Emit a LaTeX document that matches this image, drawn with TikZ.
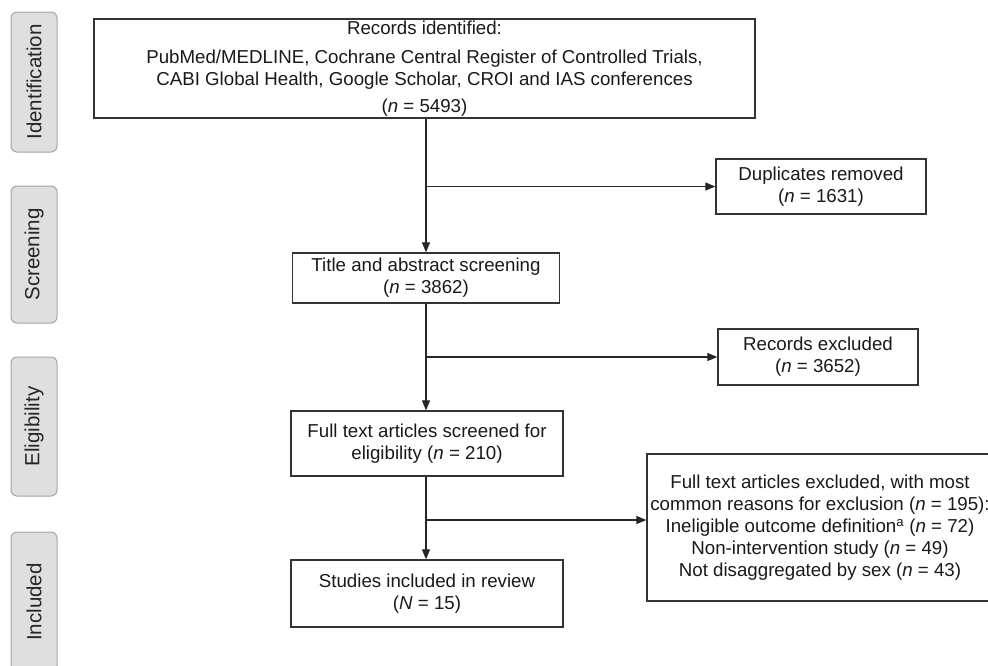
\documentclass[tikz,border=0pt]{standalone}
\usepackage{fontspec}
\setmainfont{Liberation Sans}
\usetikzlibrary{arrows.meta, positioning}

\begin{document}
\begin{tikzpicture}[x=1pt, y=-1pt,
    every node/.style={font=\fontsize{18.7}{22}\selectfont, text=black!90},
    box/.style={rectangle, draw=black!80, line width=1.3pt, align=center, inner sep=0pt},
    phase/.style={rectangle, rounded corners=6pt, draw=gray!70, fill=gray!25, line width=1pt,
      rotate=90, minimum height=46pt, inner sep=0pt, text=black!85, font=\fontsize{20.5}{22}\selectfont},
    arrow/.style={-{Triangle[length=10pt, width=8pt]}, line width=1.1pt, black!85}]

\useasboundingbox (0,0) rectangle (988,665);

% Phase labels
\node[phase, minimum width=140pt] (ident) at (34,82) {Identification};
\node[phase, minimum width=137pt] (screen) at (34,254.5) {Screening};
\node[phase, minimum width=139pt] (elig) at (34,426.5) {Eligibility};
\node[phase, minimum width=140pt] (incl) at (34,602) {Included};

% Main column
\node[box, minimum width=661pt, minimum height=99pt] (records) at (424.5,68.5)
  {Records identified:\\[7pt]
   PubMed/MEDLINE, Cochrane Central Register of Controlled Trials,\\
   CABI Global Health, Google Scholar, CROI and IAS conferences\\[5pt]
   (\textit{n} = 5493)};
\node[box, minimum width=267pt, minimum height=50pt] (title) at (426,278)
  {Title and abstract screening\\(\textit{n} = 3862)};
\node[box, minimum width=272pt, minimum height=65pt] (fulltext) at (427,443.5)
  {Full text articles screened for\\eligibility (\textit{n} = 210)};
\node[box, minimum width=272pt, minimum height=67pt] (studies) at (427,593.5)
  {Studies included in review\\(\textit{N} = 15)};

% Excluded boxes
\node[box, minimum width=210pt, minimum height=55pt] (dupl) at (821,186.5)
  {Duplicates removed\\(\textit{n} = 1631)};
\node[box, minimum width=200pt, minimum height=56pt] (recex) at (818,357)
  {Records excluded\\(\textit{n} = 3652)};
\node[box, minimum width=346pt, minimum height=147pt] (ftex) at (820,527.5)
  {Full text articles excluded, with most\\
   common reasons for exclusion (\textit{n} = 195):\\
   Ineligible outcome definition\textsuperscript{a} (\textit{n} = 72)\\
   Non-intervention study (\textit{n} = 49)\\
   Not disaggregated by sex (\textit{n} = 43)};

% Arrows
\coordinate (split3) at (426,520);
\draw[arrow] (records.south -| title.north) -- (title.north);
\draw[arrow] (title.south) -- (title.south |- fulltext.north);
\draw[arrow] (fulltext.south -| title.south) -- (studies.north -| title.south);
\draw[arrow] (dupl.west -| title.north) -- (dupl.west);
\draw[arrow] (recex.west -| title.north) -- (recex.west);
\draw[arrow] (split3) -- (split3 -| ftex.west);

\end{tikzpicture}
\end{document}
